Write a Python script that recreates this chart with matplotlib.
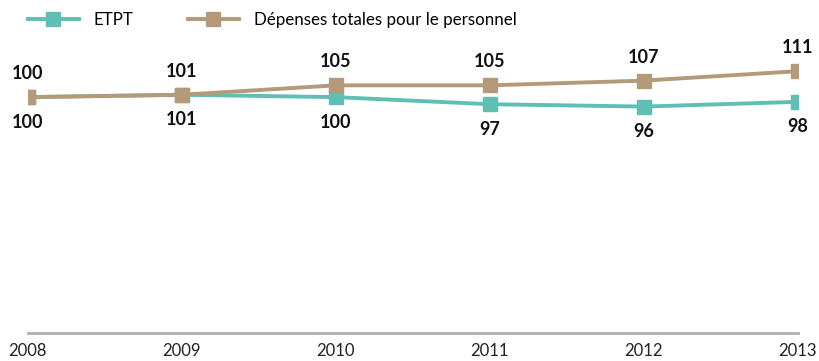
import matplotlib
matplotlib.use("Agg")
import matplotlib.pyplot as plt

years = [2008, 2009, 2010, 2011, 2012, 2013]
etpt = [100, 101, 100, 97, 96, 98]
depenses = [100, 101, 105, 105, 107, 111]
series_names = ["ETPT", "Dépenses totales pour le personnel"]

teal = "#5fbfb4"
tan = "#b49a78"

plt.rcParams["font.family"] = ["Lato", "DejaVu Sans"]

fig = plt.figure(figsize=(8.2, 3.61), dpi=100)
ax = fig.add_axes([0.034, 0.0776, 0.939, 0.784])

ax.plot(years, etpt, color=teal, lw=2.8, marker="s", ms=10, label=series_names[0])
ax.plot(years, depenses, color=tan, lw=2.8, marker="s", ms=10, label=series_names[1])

for x, v in zip(years, depenses):
    ax.annotate(f"{v}", (x, v), xytext=(0, 17), textcoords="offset points",
                ha="center", va="center", fontsize=13, fontweight="bold", color="#111111")
for x, v in zip(years, etpt):
    ax.annotate(f"{v}", (x, v), xytext=(0, -18), textcoords="offset points",
                ha="center", va="center", fontsize=13, fontweight="bold", color="#111111")

ax.set_xlim(2008, 2013)
ax.set_ylim(0, 120)
ax.set_xticks(years)
ax.set_xticklabels([str(y) for y in years], fontsize=12, color="#222222")
ax.set_yticks([])
for s in ["top", "right", "left"]:
    ax.spines[s].set_visible(False)
ax.spines["bottom"].set_color("#b0b0b0")
ax.spines["bottom"].set_linewidth(2)
ax.tick_params(axis="x", length=0, pad=7)

fig.legend(*ax.get_legend_handles_labels(), loc="center left",
           bbox_to_anchor=(0.034, 0.944), ncol=2, frameon=False,
           fontsize=12.2, handlelength=3.0, columnspacing=3.2, handletextpad=0.9,
           borderaxespad=0, borderpad=0)

fig.savefig("out.png", dpi=100)
